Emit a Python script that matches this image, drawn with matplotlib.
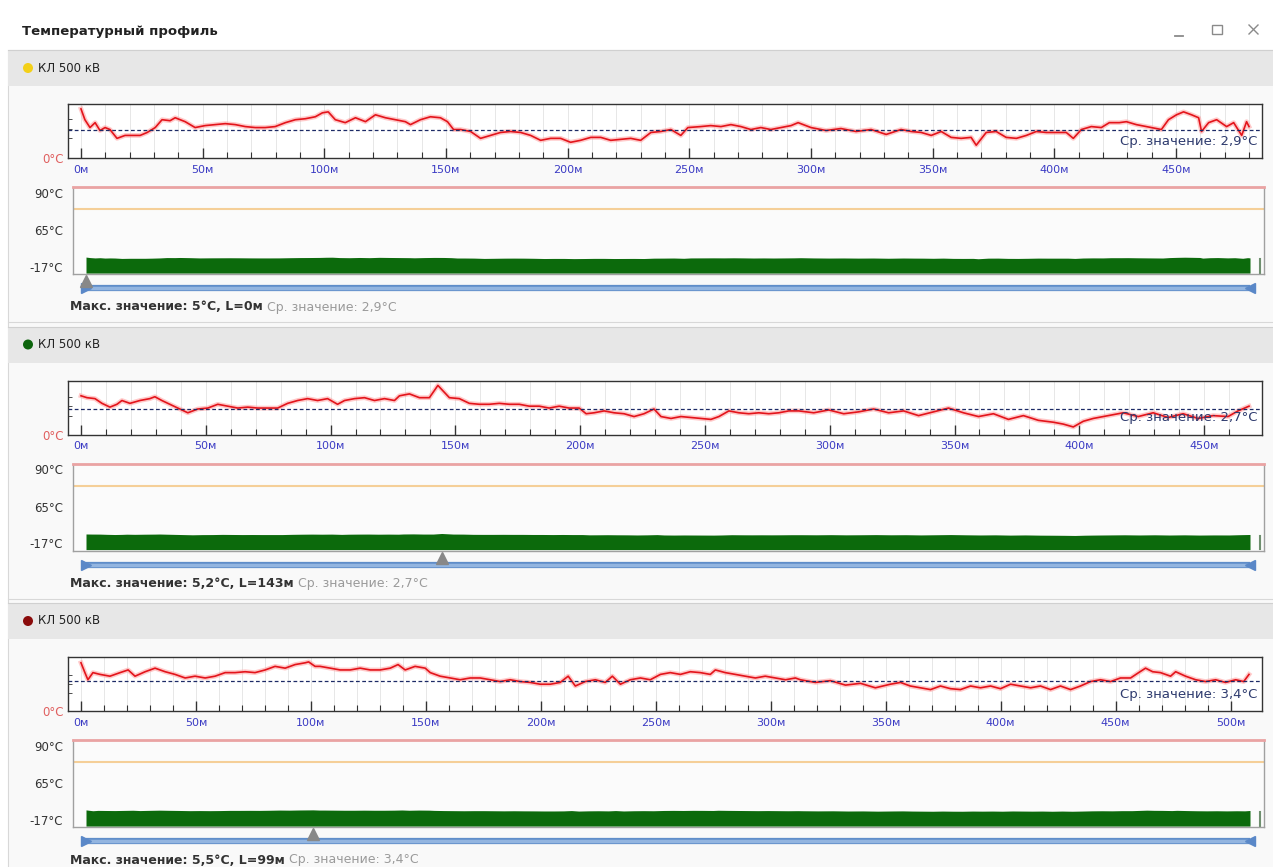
import numpy as np
import matplotlib
matplotlib.use("Agg")
import matplotlib.pyplot as plt
from matplotlib.patches import Rectangle, Ellipse
from matplotlib.lines import Line2D
from matplotlib.text import Annotation

plt.rcParams['font.family'] = ['DejaVu Sans']

# ---------------- data ----------------
window_title = "Температурный профиль"
cable_names = ["КЛ 500 кВ", "КЛ 500 кВ", "КЛ 500 кВ"]
status_colors = ["#f3d018", "#0d650d", "#8a0b0b"]
cable_lengths = [480, 468, 508]
max_values = [5.0, 5.2, 5.5]
max_positions = [0, 143, 99]
avg_values = [2.9, 2.7, 3.4]
gauge_ticks = [90, 65, -17]
warning_level = 80

# (distance m, temperature °C)
profile1 = [(0, 5.0), (1.6, 3.9), (3.7, 3.1), (5.8, 3.6), (7.8, 2.8), (9.9, 3.1), (11.9, 2.9), (14.8, 2.0),
            (18.1, 2.3), (21.4, 2.3), (24.3, 2.3), (27.2, 2.6), (30.5, 3.1), (33.3, 3.9), (36.6, 3.8), (38.7, 4.1),
            (42.8, 3.7), (46.9, 3.1), (51.0, 3.3), (55.1, 3.4), (59.3, 3.5), (63.4, 3.4), (67.5, 3.2), (71.6, 3.1),
            (75.7, 3.1), (79.8, 3.2), (84.0, 3.6), (88.1, 3.9), (92.2, 4.0), (96.3, 4.2), (99.2, 4.6), (101.6, 4.7),
            (104.5, 3.9), (108.6, 3.6), (112.8, 4.1), (116.9, 3.7), (121.0, 4.4), (125.1, 4.1), (129.2, 3.9),
            (133.3, 3.7), (135.4, 3.4), (139.5, 3.9), (143.6, 4.2), (147.7, 4.1), (150.6, 3.7), (153.1, 2.9),
            (156.0, 2.9), (160.1, 2.7), (164.2, 2.0), (168.3, 2.3), (172.4, 2.6), (176.5, 2.7), (180.7, 2.6),
            (184.8, 2.3), (188.9, 1.8), (193.0, 2.0), (197.1, 2.0), (201.2, 1.6), (205.3, 1.8), (209.5, 2.1),
            (213.6, 2.1), (217.7, 1.8), (221.8, 1.9), (225.9, 2.0), (230.0, 1.8), (234.2, 2.6), (238.3, 2.7),
            (242.4, 2.9), (246.5, 2.3), (249.4, 3.1), (254.7, 3.2), (258.8, 3.3), (263.0, 3.2), (267.1, 3.4),
            (271.2, 3.2), (275.3, 2.9), (279.4, 3.1), (283.5, 2.9), (287.7, 3.1), (291.8, 3.3), (294.7, 3.6),
            (300.0, 3.1), (306.2, 2.8), (312.3, 3.0), (318.5, 2.7), (324.7, 2.9), (330.9, 2.4), (337.0, 2.9),
            (341.2, 2.7), (345.3, 2.6), (349.4, 2.3), (353.5, 2.7), (357.6, 2.1), (361.7, 2.0), (365.8, 2.1),
            (367.9, 1.3), (372.0, 2.6), (376.1, 2.7), (380.2, 2.1), (384.4, 2.0), (388.5, 2.3), (392.6, 2.7),
            (396.7, 2.6), (400.8, 2.6), (404.9, 2.6), (407.8, 2.0), (411.1, 2.9), (415.2, 3.2), (419.3, 3.1),
            (422.6, 3.6), (426.7, 3.6), (429.6, 3.7), (433.7, 3.4), (437.9, 3.2), (444.0, 2.9), (446.9, 3.9),
            (450.2, 4.4), (453.1, 4.7), (456.4, 4.4), (459.3, 4.1), (460.5, 2.7), (463.4, 3.6), (466.7, 3.9),
            (470.8, 3.2), (473.7, 3.6), (477.0, 2.3), (479.0, 3.7), (480.0, 3.2)]

profile2 = [(0, 4.1), (2.4, 3.9), (5.6, 3.8), (8.4, 3.3), (11.6, 2.9), (14.4, 3.2), (16.4, 3.6), (19.6, 3.3),
            (23.6, 3.6), (27.6, 3.8), (29.6, 4.0), (32.4, 3.6), (35.6, 3.2), (38.8, 2.8), (42.8, 2.3), (46.8, 2.7),
            (50.8, 2.8), (54.8, 3.2), (58.8, 3.0), (62.8, 2.8), (66.8, 2.9), (70.8, 2.8), (74.8, 2.8), (78.8, 2.8),
            (82.8, 3.3), (86.8, 3.6), (90.8, 3.8), (94.8, 3.6), (98.8, 3.8), (102.8, 3.2), (105.6, 3.6),
            (109.6, 3.8), (113.6, 3.9), (117.6, 3.6), (121.6, 3.8), (125.6, 3.6), (127.6, 4.1), (131.6, 4.3),
            (135.6, 3.9), (139.6, 3.9), (143.0, 5.2), (147.6, 3.9), (151.6, 3.8), (155.6, 3.3), (159.6, 3.2),
            (163.6, 3.2), (167.6, 3.3), (171.6, 3.2), (175.6, 3.2), (179.6, 3.0), (183.6, 3.0), (187.6, 2.8),
            (191.6, 3.0), (195.6, 2.8), (199.6, 2.8), (202.4, 2.2), (205.6, 2.3), (209.6, 2.5), (213.6, 2.3),
            (217.6, 2.2), (221.6, 1.9), (225.6, 2.2), (229.6, 2.7), (232.4, 1.9), (236.4, 1.7), (240.4, 1.9),
            (244.4, 1.8), (248.4, 1.7), (252.4, 1.6), (255.6, 1.9), (259.6, 2.5), (263.6, 2.3), (267.6, 2.2),
            (271.6, 2.3), (275.6, 2.2), (279.6, 2.3), (283.6, 2.5), (287.6, 2.5), (293.6, 2.3), (299.6, 2.6),
            (305.6, 2.2), (311.6, 2.4), (317.6, 2.7), (323.6, 2.3), (329.6, 2.5), (335.6, 2.0), (341.6, 2.4),
            (347.6, 2.8), (353.6, 2.3), (359.6, 1.9), (365.6, 2.2), (371.6, 1.6), (377.6, 2.0), (383.6, 1.5),
            (389.6, 1.3), (393.6, 1.1), (397.6, 0.8), (401.6, 1.4), (405.6, 1.7), (411.6, 2.0), (417.6, 2.3),
            (423.6, 1.9), (429.6, 2.3), (435.6, 1.8), (441.6, 2.2), (447.6, 1.7), (453.6, 2.0), (459.6, 1.9),
            (463.6, 2.5), (468.0, 3.0)]

profile3 = [(0, 5.4), (1.7, 4.3), (3.0, 3.5), (5.2, 4.3), (8.3, 4.1), (12.6, 3.9), (17.0, 4.3), (20.5, 4.6),
            (23.5, 3.9), (27.9, 4.4), (32.2, 4.8), (36.6, 4.4), (40.9, 4.1), (45.3, 3.7), (49.6, 3.9), (54.0, 3.7),
            (58.3, 3.9), (62.7, 4.3), (67.0, 4.3), (71.4, 4.4), (75.7, 4.3), (80.1, 4.6), (84.4, 5.0), (88.8, 4.8),
            (93.1, 5.2), (97.5, 5.4), (99.0, 5.5), (101.8, 5.0), (104.0, 5.0), (108.4, 4.8), (112.7, 4.6),
            (117.1, 4.6), (121.4, 4.8), (125.8, 4.6), (130.1, 4.6), (134.5, 4.8), (137.9, 5.2), (141.0, 4.6),
            (145.3, 5.0), (149.7, 4.8), (151.9, 4.3), (156.2, 3.9), (160.6, 3.7), (164.9, 3.5), (169.3, 3.7),
            (173.6, 3.7), (178.0, 3.5), (182.3, 3.3), (186.7, 3.5), (191.0, 3.3), (195.4, 3.2), (199.7, 3.0),
            (204.1, 3.0), (208.4, 3.2), (211.9, 3.9), (215.0, 2.8), (219.3, 3.3), (223.7, 3.5), (228.0, 3.2),
            (231.1, 3.9), (234.6, 3.0), (238.9, 3.5), (243.3, 3.7), (247.6, 3.5), (252.0, 4.1), (256.3, 4.3),
            (260.7, 4.1), (265.0, 4.4), (269.4, 4.3), (273.7, 4.1), (275.9, 4.6), (280.2, 4.3), (284.6, 4.1),
            (288.9, 3.9), (293.3, 3.7), (297.6, 3.9), (302.0, 3.7), (306.4, 3.5), (310.7, 3.7), (312.9, 3.5),
            (319.4, 3.2), (325.9, 3.4), (332.5, 2.9), (339.0, 3.1), (345.5, 2.6), (352.0, 3.0), (356.4, 3.2),
            (360.7, 2.8), (365.1, 2.6), (369.5, 2.4), (373.8, 2.8), (378.2, 2.5), (382.5, 2.4), (386.9, 2.8),
            (391.2, 2.6), (395.6, 2.8), (399.9, 2.5), (404.3, 3.0), (408.6, 2.8), (413.0, 2.6), (417.3, 2.8),
            (421.7, 2.4), (426.0, 2.8), (430.4, 2.4), (434.7, 2.8), (439.1, 3.3), (443.4, 3.5), (447.8, 3.3),
            (452.1, 3.7), (456.5, 3.7), (460.0, 4.3), (463.0, 4.8), (466.1, 4.4), (469.5, 4.3), (473.9, 3.9),
            (476.1, 4.4), (480.4, 3.9), (484.8, 3.5), (489.1, 3.3), (493.5, 3.5), (497.8, 3.2), (502.2, 3.5),
            (505.7, 3.3), (508.0, 4.1)]

profiles = [profile1, profile2, profile3]

# gauge (bottom strip) non-linear scale: temperature -> strip height
gauge_T = [-33, -17, 65, 80, 90, 96]
gauge_P = [0, 7, 44, 65, 81, 87]

# ---------------- layout helpers ----------------
W, H = 1273, 867
fig = plt.figure(figsize=(W / 100, H / 100), dpi=100)
fig.patch.set_facecolor('white')


def fig_rect(x0, y0, x1, y1):
    return [x0 / W, 1 - y1 / H, (x1 - x0) / W, (y1 - y0) / H]


def rect(x0, y0, x1, y1, z=-10, **kw):
    fig.add_artist(Rectangle((x0 / W, 1 - y1 / H), (x1 - x0) / W, (y1 - y0) / H,
                             transform=fig.transFigure, zorder=z, **kw))


def line(x0, y0, x1, y1, z=-5, **kw):
    fig.add_artist(Line2D([x0 / W, x1 / W], [1 - y0 / H, 1 - y1 / H], transform=fig.transFigure,
                          zorder=z, **kw))


def fmt(v):
    return ('%g' % v).replace('.', ',')


# window frame
rect(8, 50, 1274, 868, facecolor='#f9f9f9', edgecolor='#d8d8d8', lw=0.8)
fig.text(22 / W, 1 - 31 / H, window_title, fontsize=9.5, weight='bold', color='#222222', va='center')
line(1175, 36, 1183, 36, color='#8a8a8a', lw=1.3)
rect(1212, 25, 1222, 34, z=2, facecolor='none', edgecolor='#8a8a8a', lw=1.0)
line(1249, 25, 1258, 34, z=2, color='#8a8a8a', lw=1.0)
line(1249, 34, 1258, 25, z=2, color='#8a8a8a', lw=1.0)

fwd = lambda t: np.interp(t, gauge_T, gauge_P)
inv = lambda p: np.interp(p, gauge_P, gauge_T)

panel_tops = [50, 326.5, 603]

for i, h in enumerate(panel_tops):
    L = cable_lengths[i]
    prof = np.array(profiles[i])
    d, t = prof[:, 0], prof[:, 1]

    # header
    rect(8, h, 1274, h + 36, z=-8, facecolor='#e7e7e7', edgecolor='none')
    line(8, h, 1274, h, color='#d0d0d0', lw=0.8)
    fig.add_artist(Ellipse((28 / W, 1 - (h + 18) / H), 10 / W, 10 / H, transform=fig.transFigure,
                           facecolor=status_colors[i], edgecolor='none', zorder=2))
    fig.text(38 / W, 1 - (h + 18) / H, cable_names[i], fontsize=8.5, color='#222222', va='center')

    # ---- top profile chart ----
    ax = fig.add_axes(fig_rect(68, h + 54, 1262, h + 108))
    ax.set_facecolor('white')
    ax.set_xlim(-13 / 1168 * L, L * (1 + 13 / 1168))
    ax.set_ylim(0, max_values[i] * 1.1)
    ax.set_axisbelow(True)
    ax.grid(True, which='both', axis='x', color='#e3e3e3', lw=0.6)
    ax.plot(d, t, color='#ff9d9d', lw=3.4, alpha=0.55, solid_joinstyle='round')
    ax.plot(d, t, color='#e3141b', lw=1.2)
    ax.axhline(avg_values[i], color='#1c2a66', lw=0.9, dashes=(3, 2))
    ax.set_xticks(np.arange(0, L + 1, 50))
    ax.set_xticklabels([f"{v}м" for v in np.arange(0, L + 1, 50)])
    ax.set_xticks(np.arange(0, L + 1, 10), minor=True)
    ax.tick_params(axis='x', which='major', direction='in', length=7, width=1, color='#333333',
                   labelsize=8, labelcolor='#3b3bc4', pad=5)
    ax.tick_params(axis='x', which='minor', direction='in', length=4, width=0.8, color='#333333')
    ax.set_yticks([0])
    ax.set_yticklabels(['0°C'])
    ax.set_yticks([2, 3, 4], minor=True)
    ax.tick_params(axis='y', which='major', length=0, labelsize=8.5, labelcolor='#e06060', pad=3)
    ax.tick_params(axis='y', which='minor', direction='in', length=3, color='#333333')
    for s in ax.spines.values():
        s.set_color('#333333')
        s.set_linewidth(1)
    ax.text(0.996, 0.31, f"Ср. значение: {fmt(avg_values[i])}°C", transform=ax.transAxes,
            ha='right', va='center', fontsize=9.5, color='#2e3b6e')

    # ---- gauge strip ----
    ax2 = fig.add_axes(fig_rect(73, h + 137, 1264, h + 224))
    ax2.set_facecolor('#fbfbfb')
    ax2.set_yscale('function', functions=(fwd, inv))
    ax2.set_ylim(gauge_T[0], gauge_T[-1])
    xl = (-13 / 1164 * L, L * (1 + 14 / 1164))
    ax2.set_xlim(*xl)
    ax2.fill_between(d, -31, t, color='#0c6a0c', lw=0)
    ax2.axhline(warning_level, color='#f5cf98', lw=1.5)
    ax2.plot([0.997, 0.997], [-30, 0], transform=ax2.get_yaxis_transform(), color='#6f8f6f', lw=1.5)
    ax2.set_xticks([])
    ax2.yaxis.set_minor_locator(matplotlib.ticker.NullLocator())
    ax2.set_yticks(gauge_ticks)
    ax2.set_yticklabels([f"{v}°C" for v in gauge_ticks])
    ax2.tick_params(axis='y', length=0, pad=7, labelsize=8.5, labelcolor='#333333')
    for k, s in ax2.spines.items():
        s.set_color('#a0a0a0')
        s.set_linewidth(1)
    ax2.spines['top'].set_color('#eaa3a3')
    ax2.spines['top'].set_linewidth(2)

    # ---- slider ----
    sl = fig.add_axes(fig_rect(73, h + 222, 1264, h + 246))
    sl.set_xlim(*xl)
    sl.set_ylim(0, 1)
    sl.axis('off')
    sl.plot([0, L], [0.333, 0.333], color='#5f8dc9', lw=4.5, solid_capstyle='butt')
    sl.plot([0, L], [0.333, 0.333], color='#93b5e0', lw=2.5, solid_capstyle='butt')
    sl.plot([0], [0.333], marker='>', color='#5a88c8', ms=7, ls='none')
    sl.plot([L], [0.333], marker='<', color='#5a88c8', ms=7, ls='none')
    sl.plot([max_positions[i]], [0.625], marker='^', color='#888888', ms=8, ls='none')

    # status line
    t1 = fig.text(70 / W, 1 - (h + 257) / H,
                  f"Макс. значение: {fmt(max_values[i])}°C, L={max_positions[i]}м",
                  fontsize=9, weight='bold', color='#333333', va='center')
    ann = Annotation(f" Ср. значение: {fmt(avg_values[i])}°C", xy=(1, 0.5), xycoords=t1,
                     va='center', ha='left', fontsize=9, color='#9a9a9a', annotation_clip=False)
    fig.add_artist(ann)
    line(8, h + 272, 1274, h + 272, color='#d8d8d8', lw=0.8)

fig.savefig('out.png', dpi=100, facecolor=fig.get_facecolor())
